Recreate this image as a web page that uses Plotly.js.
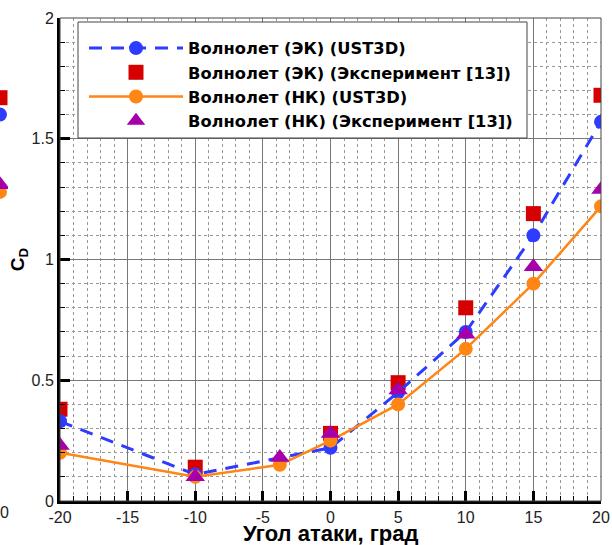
<!DOCTYPE html>
<html>
<head>
<meta charset="utf-8">
<script src="https://cdn.plot.ly/plotly-3.0.1.min.js"></script>
<style>html,body{margin:0;padding:0;background:#fff}</style>
</head>
<body>
<div id="chart" style="width:612px;height:545px"></div>
<script>
// Angle of attack, deg
const alphaEK = [-20, -10, 0, 5, 10, 15, 20];
const cdEK_UST3D = [0.33, 0.11, 0.22, 0.45, 0.70, 1.10, 1.57];
const cdEK_Exp = [0.38, 0.14, 0.28, 0.49, 0.80, 1.19, 1.68];
const alphaNK = [-20, -10, -3.75, 0, 5, 10, 15, 20];
const cdNK_UST3D = [0.20, 0.10, 0.15, 0.25, 0.40, 0.63, 0.90, 1.22];
const cdNK_Exp = [0.23, 0.10, 0.18, 0.28, 0.46, 0.69, 0.97, 1.29];
// partially visible neighbouring panel at the left edge (x = 20 only)
const nbAlpha = [20];
const nbEK_UST3D = [1.60];
const nbEK_Exp = [1.67];
const nbNK_UST3D = [1.28];
const nbNK_Exp = [1.31];
const nbTickVals = [20.56];
const nbTickText = ['0'];
const xTicks = [-20, -15, -10, -5, 0, 5, 10, 15, 20];
const yTicks = [0, 0.5, 1, 1.5, 2];
const xTitle = 'Угол атаки, град';

const cBlue = 'rgb(45,60,255)', cRed = 'rgb(214,0,0)', cOrange = 'rgb(255,133,20)', cPurple = 'rgb(165,0,170)';

const traces = [
  {x: alphaEK, y: cdEK_Exp, mode: 'markers', name: 'Волнолет (ЭК) (Эксперимент [13])', legendrank: 2,
   marker: {symbol: 'square', size: 15, color: cRed}},
  {x: alphaEK, y: cdEK_UST3D, mode: 'lines+markers', name: 'Волнолет (ЭК) (UST3D)', legendrank: 1,
   line: {color: cBlue, width: 3, dash: '13px,9px'}, marker: {symbol: 'circle', size: 14, color: cBlue}},
  {x: alphaNK, y: cdNK_UST3D, mode: 'lines+markers', name: 'Волнолет (НК) (UST3D)', legendrank: 3,
   line: {color: cOrange, width: 2.5}, marker: {symbol: 'circle', size: 14, color: cOrange}},
  {x: alphaNK, y: cdNK_Exp, mode: 'markers', name: 'Волнолет (НК) (Эксперимент [13])', legendrank: 4,
   marker: {symbol: 'triangle-up', size: 17, color: cPurple}},
  // neighbour panel fragments
  {x: nbAlpha, y: nbEK_Exp, xaxis: 'x2', yaxis: 'y2', mode: 'markers', showlegend: false, marker: {symbol: 'square', size: 15, color: cRed}},
  {x: nbAlpha, y: nbEK_UST3D, xaxis: 'x2', yaxis: 'y2', mode: 'markers', showlegend: false, marker: {symbol: 'circle', size: 14, color: cBlue}},
  {x: nbAlpha, y: nbNK_UST3D, xaxis: 'x2', yaxis: 'y2', mode: 'markers', showlegend: false, marker: {symbol: 'circle', size: 14, color: cOrange}},
  {x: nbAlpha, y: nbNK_Exp, xaxis: 'x2', yaxis: 'y2', mode: 'markers', showlegend: false, marker: {symbol: 'triangle-up', size: 17, color: cPurple}}
];

const tickFont = {family: 'Liberation Sans, Arial, sans-serif', size: 16, color: '#222'};
const layout = {
  width: 612, height: 545,
  margin: {l: 0, r: 11, t: 18, b: 44},
  paper_bgcolor: '#fff', plot_bgcolor: '#fff',
  showlegend: true,
  xaxis: {
    domain: [60/601, 1], range: [-20, 20], tickvals: xTicks, ticktext: xTicks.map(String),
    ticks: 'inside', ticklen: 10, tickwidth: 3, tickcolor: '#000',
    showline: true, linecolor: '#000', linewidth: 3, zeroline: false,
    showgrid: true, gridcolor: '#777', gridwidth: 1,
    minor: {dtick: 1, tick0: 0, ticks: 'inside', ticklen: 5, tickwidth: 1, tickcolor: '#000', showgrid: true, gridcolor: '#999', griddash: 'dot', gridwidth: 1},
    tickfont: tickFont
  },
  yaxis: {
    range: [0, 2], tickvals: yTicks, ticktext: ['0', '0.5', '1', '1.5', '2'],
    ticks: 'inside', ticklen: 10, tickwidth: 3, tickcolor: '#000',
    showline: true, linecolor: '#000', linewidth: 3, zeroline: false,
    showgrid: true, gridcolor: '#777', gridwidth: 1,
    minor: {dtick: 0.1, tick0: 0, ticks: 'inside', ticklen: 5, tickwidth: 1, tickcolor: '#000', showgrid: true, gridcolor: '#999', griddash: 'dot', gridwidth: 1},
    tickfont: tickFont,
    title: {text: '<b>C<sub>D</sub></b>', font: {family: 'Liberation Sans, Arial, sans-serif', size: 19, color: '#000'}, standoff: 2}
  },
  xaxis2: {domain: [0, 8/601], range: [20, 21], anchor: 'y2', showgrid: false, zeroline: false, showline: false,
    tickvals: nbTickVals, ticktext: nbTickText, ticks: '', tickfont: tickFont, ticklabeloverflow: 'allow'},
  yaxis2: {domain: [0, 1], range: [0, 2], anchor: 'x2', showgrid: false, zeroline: false, showline: false, showticklabels: false, ticks: ''},
  legend: {
    x: 84/601, y: (501-31)/483, xanchor: 'left', yanchor: 'top',
    bgcolor: 'rgba(0,0,0,0)', borderwidth: 0,
    font: {family: 'DejaVu Sans, sans-serif', size: 16.3, color: '#000', weight: 'bold'},
    itemwidth: 94, tracegroupgap: 0
  },
  annotations: [
    {text: '<b>' + xTitle + '</b>', xref: 'x domain', yref: 'paper', x: 0.5, y: 0, xanchor: 'center', yanchor: 'middle',
     yshift: -32, showarrow: false, font: {family: 'Liberation Sans, Arial, sans-serif', size: 22, color: '#000'}}
  ],
  shapes: [
    {type: 'rect', xref: 'x domain', yref: 'y domain', x0: 0, x1: 1, y0: 0, y1: 1, line: {color: '#444', width: 1}, layer: 'above'},
    {type: 'rect', xref: 'paper', yref: 'paper', x0: 78/601, x1: 527/601, y0: (501-138)/483, y1: (501-22)/483,
     fillcolor: '#fff', line: {color: '#444', width: 1}, layer: 'above'}
  ]
};
Plotly.newPlot('chart', traces, layout, {staticPlot: true});
</script>
</body>
</html>
